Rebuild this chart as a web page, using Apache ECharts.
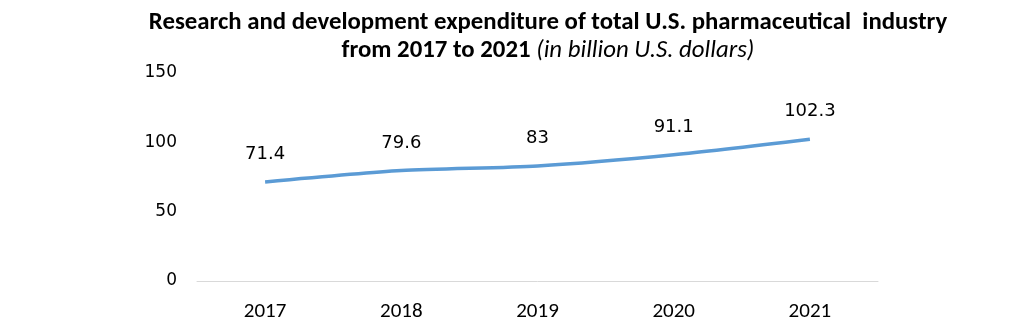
<!DOCTYPE html>
<html><head><meta charset="utf-8">
<script src="https://cdn.jsdelivr.net/npm/echarts@6/dist/echarts.min.js"></script>
<style>html,body{margin:0;padding:0;background:#fff}#c{width:1033px;height:329px}</style>
</head><body><div id="c"></div>
<script>
const years = ['2017', '2018', '2019', '2020', '2021'];
const spending = [71.4, 79.6, 83, 91.1, 102.3];
const yTicks = [0, 50, 100, 150];

const chart = echarts.init(document.getElementById('c'));
const narrow = 'Carlito, "Liberation Sans Narrow", "Open Sans", sans-serif';
chart.setOption({
  animation: false,
  title: {
    text: '{b|Research and development expenditure of total U.S. pharmaceutical  industry}\n{b|from 2017 to 2021 }{i|(in billion U.S. dollars)}',
    left: 543, top: 4, textAlign: 'center',
    textStyle: {
      rich: {
        b: {fontFamily: narrow, fontWeight: 'bold', fontSize: 24.8, color: '#000', lineHeight: 28},
        i: {fontFamily: narrow, fontWeight: 'normal', fontStyle: 'italic', fontSize: 24.8, color: '#000', lineHeight: 28}
      }
    }
  },
  grid: {left: 197, right: 155, top: 73, bottom: 48, containLabel: false},
  xAxis: {
    type: 'category', data: years, boundaryGap: true,
    axisLine: {lineStyle: {color: '#d9d9d9', width: 1}},
    axisTick: {show: false},
    axisLabel: {fontFamily: narrow, fontSize: 21, color: '#000', margin: 20}
  },
  yAxis: {
    type: 'value', min: yTicks[0], max: yTicks[yTicks.length - 1], interval: 50,
    splitLine: {show: false},
    axisLine: {show: false}, axisTick: {show: false},
    axisLabel: {fontFamily: '"DejaVu Sans", sans-serif', fontSize: 17, color: '#000', margin: 20}
  },
  series: [{
    type: 'line', data: spending, smooth: 0.25,
    symbol: 'circle', symbolSize: 0.1, showSymbol: true,
    itemStyle: {color: '#5b9bd5'},
    lineStyle: {color: '#5b9bd5', width: 3.5},
    label: {show: true, position: 'top', distance: 18.5, fontFamily: '"DejaVu Sans", sans-serif', fontSize: 18, color: '#000'}
  }]
});
</script></body></html>
